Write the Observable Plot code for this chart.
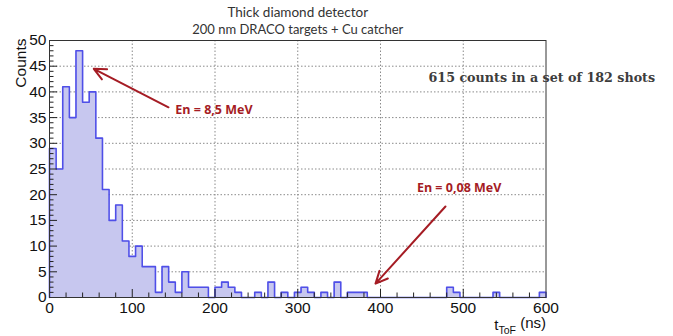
<!DOCTYPE html>
<html>
<head>
<meta charset="utf-8">
<script src="https://cdn.jsdelivr.net/npm/d3@7"></script>
<script src="https://cdn.jsdelivr.net/npm/@observablehq/plot@0.6"></script>
<style>
  html, body { margin: 0; padding: 0; background: #fff; }
  #chart svg { display: block; }
</style>
</head>
<body>
<div id="chart"></div>
<script>
// ---- data ----
const binWidth = 8; // ns
const counts = [
  29, 25, 41, 35, 48, 38, 40, 31, 21, 15,
  18, 11, 8, 10, 6, 6, 1, 6, 3, 1,
  5, 2, 2, 2, 0, 2, 3, 2, 1, 0,
  0, 1, 0, 3, 0, 1, 0, 1, 2, 1,
  0, 1, 0, 3, 0, 1, 1, 1, 0, 0,
  0, 0, 0, 0, 0, 0, 0, 0, 0, 0,
  2, 1, 0, 0, 0, 0, 0, 1, 0, 0,
  0, 0, 0, 0, 1
];
const xTickLabels = [0, 100, 200, 300, 400, 500, 600];
const xMinorTicks = [20, 40, 60, 80, 120, 140, 160, 180, 220, 240, 260, 280, 320, 340, 360, 380, 420, 440, 460, 480, 520, 540, 560, 580];
const xMajorTicks = [100, 200, 300, 400, 500];
const yTickLabels = [0, 5, 10, 15, 20, 25, 30, 35, 40, 45, 50];
const yMajorTicks = [5, 10, 15, 20, 25, 30, 35, 40, 45];
const yMinorTicks = [1, 2, 3, 4, 6, 7, 8, 9, 11, 12, 13, 14, 16, 17, 18, 19, 21, 22, 23, 24,
  26, 27, 28, 29, 31, 32, 33, 34, 36, 37, 38, 39, 41, 42, 43, 44, 46, 47, 48, 49];
const titleLines = ["Thick diamond detector", "200 nm DRACO targets + Cu catcher"];
const summaryText = "615 counts in a set of 182 shots";
const annotations = [
  {x: 152, y: 36.4, text: "En = 8,5 MeV"},
  {x: 444, y: 21.3, text: "En = 0,08 MeV"}
];
const arrows = [
  {x1: 143.8, y1: 37.0, x2: 53.5, y2: 44.5},
  {x1: 478.5, y1: 17.7, x2: 394, y2: 2.7}
];
const summaryPos = [{x: 458, y: 42.8, text: summaryText}];

// ---- derived tables ----
const steps = counts.map((c, i) => ({x: i * binWidth, y: c}));
steps.push({x: counts.length * binWidth, y: counts[counts.length - 1]});
const outline = [{x: 0, y: 0}, ...steps, {x: counts.length * binWidth, y: 0}];

const W = 673, H = 336;
const mL = 49, mR = 127.5, mT = 40, mB = 39;
const innerW = W - mL - mR, innerH = H - mT - mB;
const red = "#a51c24";
const sans = "Liberation Sans, Arial, Helvetica, sans-serif";
const cal = "Lato, 'Open Sans', sans-serif";

const chart = Plot.plot({
  width: W, height: H,
  marginLeft: mL, marginRight: mR, marginTop: mT, marginBottom: mB,
  x: {domain: [0, 600]},
  y: {domain: [0, 50]},
  style: {fontFamily: sans, background: "#fff", overflow: "visible"},
  marks: [
    Plot.ruleX(xMajorTicks, {x: d => d, stroke: "#8a8a8a", strokeDasharray: "1.5,2", strokeWidth: 1}),
    Plot.ruleY(yMajorTicks, {y: d => d, stroke: "#8a8a8a", strokeDasharray: "1.5,2", strokeWidth: 1}),
    Plot.areaY(steps, {x: "x", y: "y", curve: "step-after", fill: "#c7c7ef"}),
    Plot.line(outline, {x: "x", y: "y", curve: "step-after", stroke: "#4f4fe8", strokeWidth: 1.6}),
    // inward ticks
    Plot.tickY(yMajorTicks, {y: d => d, stroke: "#222", insetRight: innerW - 8}),
    Plot.tickY(yMinorTicks, {y: d => d, stroke: "#222", insetRight: innerW - 4.5}),
    Plot.tickX(xMajorTicks, {x: d => d, stroke: "#222", insetTop: innerH - 8}),
    Plot.tickX(xMinorTicks, {x: d => d, stroke: "#222", insetTop: innerH - 4.5}),
    Plot.frame({stroke: "#333", strokeWidth: 1}),
    Plot.axisX({ticks: xTickLabels, tickSize: 0, tickPadding: 4, fontSize: 15.5, fill: "#111", tickFormat: d => String(d)}),
    Plot.axisY({ticks: yTickLabels, tickSize: 0, tickPadding: 3, fontSize: 15.5, fill: "#111", tickFormat: d => String(d)}),
    // titles
    Plot.text([titleLines[0]], {frameAnchor: "top", dy: -33, text: d => d, fontSize: 13.5, fontFamily: cal, fill: "#333"}),
    Plot.text([titleLines[1]], {frameAnchor: "top", dy: -16, text: d => d, fontSize: 13, fontFamily: cal, fill: "#333"}),
    // axis labels
    Plot.text(["Counts"], {frameAnchor: "top-left", dx: -35, dy: -2, rotate: -90, textAnchor: "end", text: d => d, fontSize: 15.5, fill: "#111"}),
    Plot.text(["t_ToF (ns)"], {frameAnchor: "bottom-right", dy: 32.5, textAnchor: "end", text: d => d, fontSize: 15, fill: "#111", className: "xlab"}),
    // annotations
    Plot.arrow(arrows, {x1: "x1", y1: "y1", x2: "x2", y2: "y2", stroke: red, strokeWidth: 2, headLength: 10, headAngle: 50}),
    Plot.text(annotations, {x: "x", y: "y", text: "text", textAnchor: "start", fontWeight: "bold", fontSize: 12.5, fontFamily: "'Open Sans', sans-serif", fill: red}),
    Plot.text(summaryPos, {x: "x", y: "y", text: "text", textAnchor: "start", fontWeight: "bold", fontSize: 12.7, fontFamily: "'DejaVu Serif', serif", fill: "#3d3d3d"})
  ]
});

document.getElementById("chart").appendChild(chart);

// subscript on x label
d3.select(chart).selectAll(".xlab text").each(function() {
  const t = d3.select(this);
  if (t.text() !== "t_ToF (ns)") return;
  t.text(null);
  t.append("tspan").text("t");
  t.append("tspan").attr("dy", "0.35em").attr("font-size", "10.5").text("ToF");
  t.append("tspan").attr("dy", "-0.35em").text(" (ns)");
});
</script>
</body>
</html>
